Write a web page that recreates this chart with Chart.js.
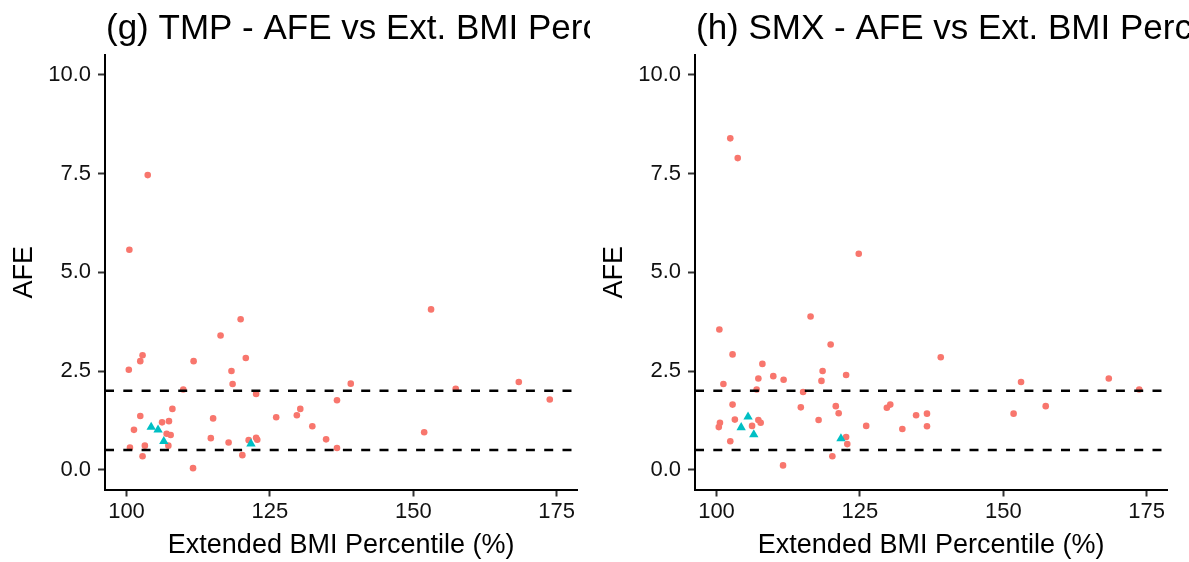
<!DOCTYPE html>
<html>
<head>
<meta charset="utf-8">
<script src="https://cdn.jsdelivr.net/npm/chart.js@4.4.1/dist/chart.umd.min.js"></script>
<style>
  html, body { margin: 0; padding: 0; background: #fff; }
  body { width: 1189px; height: 562px; position: relative; overflow: hidden; }
  .panel { position: absolute; top: 0; height: 562px; }
  #left { left: 0; width: 590px; }
  #right { left: 590px; width: 599px; }
</style>
</head>
<body>
<div class="panel" id="left"><canvas id="tmpChart"></canvas></div>
<div class="panel" id="right"><canvas id="smxChart"></canvas></div>
<script>
// TMP: AFE against extended BMI percentile
const tmpBmi = [119.9, 116.4, 102.8, 102.4, 100.4, 111.7, 120.8, 118.3, 118.5, 109.9,
  122.6, 108.0, 102.4, 101.3, 106.2, 107.4, 115.1, 126.1, 107.0, 107.7,
  114.7, 117.8, 121.3, 122.6, 122.8, 100.6, 103.2, 107.3, 102.8, 120.2,
  111.6, 103.7, 100.5, 153.1, 139.1, 157.4, 168.4, 173.8, 130.3, 129.7,
  136.7, 132.4, 134.8, 151.9, 136.7];
const tmpAfe = [3.81, 3.40, 2.90, 2.75, 2.53, 2.75, 2.83, 2.50, 2.17, 2.03,
  1.92, 1.54, 1.36, 1.01, 1.20, 1.23, 1.30, 1.33, 0.91, 0.88,
  0.80, 0.69, 0.75, 0.81, 0.76, 0.56, 0.61, 0.61, 0.34, 0.37,
  0.04, 7.46, 5.57, 4.06, 2.18, 2.05, 2.22, 1.78, 1.54, 1.38,
  1.76, 1.10, 0.77, 0.95, 0.55];
const tmpBmiGroup2 = [104.3, 105.5, 106.5, 121.7];
const tmpAfeGroup2 = [1.08, 1.01, 0.72, 0.66];

// SMX: AFE against extended BMI percentile
const smxBmi = [102.4, 103.7, 124.8, 116.4, 100.5, 119.9, 102.8, 108.0, 118.5, 122.6,
  109.9, 107.3, 111.7, 118.3, 101.2, 107.0, 115.1, 102.8, 114.7, 120.8,
  121.3, 103.2, 107.3, 107.7, 117.8, 100.6, 100.4, 106.2, 126.1, 102.4,
  122.6, 122.8, 120.2, 111.6, 139.1, 153.1, 168.4, 173.7, 130.3, 129.7,
  134.8, 136.7, 132.4, 136.7, 151.8, 157.4];
const smxAfe = [8.39, 7.89, 5.47, 3.88, 3.55, 3.17, 2.92, 2.68, 2.50, 2.40,
  2.37, 2.31, 2.28, 2.25, 2.17, 2.03, 1.97, 1.65, 1.58, 1.61,
  1.43, 1.27, 1.26, 1.19, 1.26, 1.19, 1.08, 1.11, 1.11, 0.72,
  0.83, 0.65, 0.34, 0.11, 2.85, 2.22, 2.31, 2.03, 1.65, 1.57,
  1.38, 1.42, 1.03, 1.10, 1.42, 1.61];
const smxBmiGroup2 = [105.5, 104.3, 106.5, 121.7];
const smxAfeGroup2 = [1.34, 1.07, 0.89, 0.79];

// dashed reference levels and axis ticks
const afeRefLines = [0.5, 2.0];
const xTicks = [100, 125, 150, 175];
const yTicks = [0, 2.5, 5, 7.5, 10];

const FONT = '"Liberation Sans", Arial, sans-serif';
Chart.defaults.font.family = FONT;
Chart.defaults.color = '#000';

const toPoints = (xs, ys) => xs.map((x, i) => ({ x: x, y: ys[i] }));

// title drawn left-aligned with the panel, like ggplot's default
const panelTitle = {
  id: 'panelTitle',
  afterDraw(chart, args, opts) {
    const ctx = chart.ctx;
    ctx.save();
    ctx.font = '35px ' + FONT;
    ctx.fillStyle = '#000';
    ctx.textAlign = 'left';
    ctx.textBaseline = 'alphabetic';
    ctx.fillText(opts.text, chart.chartArea.left + 1, 39);
    ctx.restore();
  }
};

const refLines = {
  id: 'refLines',
  afterDatasetsDraw(chart) {
    const { ctx, chartArea } = chart;
    const yScale = chart.scales.y;
    ctx.save();
    ctx.strokeStyle = '#000';
    ctx.lineWidth = 2.5;
    ctx.setLineDash([9, 9.3]);
    afeRefLines.forEach((v) => {
      const y = yScale.getPixelForValue(v);
      ctx.beginPath();
      ctx.moveTo(chartArea.left, y);
      ctx.lineTo(chartArea.right, y);
      ctx.stroke();
    });
    ctx.restore();
  }
};

function makeChart(id, title, bmi, afe, bmi2, afe2, padRight) {
  const ctx = document.getElementById(id).getContext('2d');
  return new Chart(ctx, {
    type: 'scatter',
    data: {
      datasets: [
        {
          data: toPoints(bmi2, afe2),
          pointStyle: 'triangle',
          pointRadius: 5.4,
          backgroundColor: '#00BFC4',
          borderWidth: 0,
        },
        {
          data: toPoints(bmi, afe),
          pointStyle: 'circle',
          pointRadius: 3.3,
          backgroundColor: '#F8766D',
          borderWidth: 0,
        },
      ],
    },
    options: {
      responsive: true,
      maintainAspectRatio: false,
      animation: false,
      devicePixelRatio: 1,
      layout: { autoPadding: false, padding: { top: 55, right: padRight, left: 0, bottom: 0 } },
      plugins: {
        legend: { display: false },
        tooltip: { enabled: false },
        panelTitle: { text: title },
      },
      scales: {
        x: {
          type: 'linear',
          min: 96.25,
          max: 178.6,
          afterFit: (scale) => { scale.height = 72.5; },
          afterBuildTicks: (scale) => { scale.ticks = xTicks.map((v) => ({ value: v })); },
          border: { display: true, color: '#000', width: 2 },
          grid: { drawOnChartArea: false, drawTicks: true, tickLength: 7, tickColor: '#333', tickWidth: 2 },
          ticks: { font: { size: 22 }, color: '#111', padding: 2, maxRotation: 0 },
          title: { display: true, text: 'Extended BMI Percentile (%)', font: { size: 27 }, color: '#000', padding: { top: 0, bottom: 0 } },
        },
        y: {
          type: 'linear',
          min: -0.5,
          max: 10.5,
          afterFit: (scale) => { scale.width = 105; },
          afterBuildTicks: (scale) => { scale.ticks = yTicks.map((v) => ({ value: v })); },
          border: { display: true, color: '#000', width: 2 },
          grid: { drawOnChartArea: false, drawTicks: true, tickLength: 7, tickColor: '#333', tickWidth: 2 },
          ticks: { font: { size: 22 }, color: '#111', padding: 7, callback: (v) => v.toFixed(1) },
          title: { display: true, text: 'AFE', font: { size: 27 }, color: '#000', padding: { top: 8, bottom: 0 } },
        },
      },
    },
    plugins: [panelTitle, refLines],
  });
}

makeChart('tmpChart', '(g) TMP - AFE vs Ext. BMI Percentile', tmpBmi, tmpAfe, tmpBmiGroup2, tmpAfeGroup2, 12.7);
makeChart('smxChart', '(h) SMX - AFE vs Ext. BMI Percentile', smxBmi, smxAfe, smxBmiGroup2, smxAfeGroup2, 21.7);
</script>
</body>
</html>
